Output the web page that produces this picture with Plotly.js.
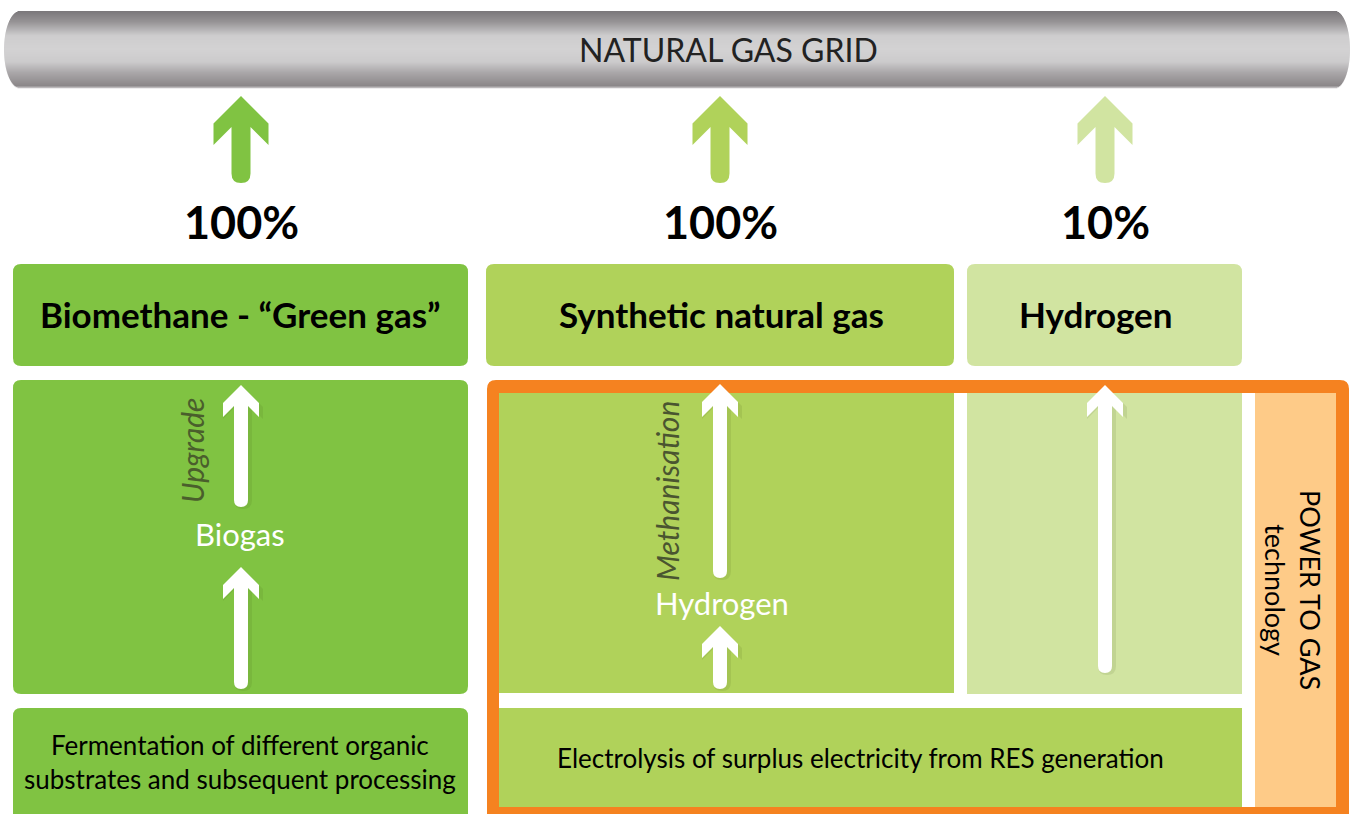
<!DOCTYPE html>
<html>
<head>
<meta charset="utf-8">
<script src="https://cdn.plot.ly/plotly-3.0.1.min.js"></script>
<style>html,body{margin:0;padding:0;background:#fff;}#chart{width:1351px;height:814px;}</style>
</head>
<body>
<div id="chart"></div>
<script>
// ---- data ----
const gridLabel = 'NATURAL GAS GRID';
const routes = ['Biomethane - \u201CGreen gas\u201D', 'Synthetic natural gas', 'Hydrogen'];
const gridShare = [100, 100, 10];
const intermediates = ['Biogas', 'Hydrogen', ''];
const processes = ['Upgrade', 'Methanisation', ''];
const sources = ['Fermentation of different organic<br>substrates and subsequent processing',
                 'Electrolysis of surplus electricity from RES generation'];
const technologyLabel = 'POWER TO GAS<br>technology';

// ---- styling / geometry ----
const FONT = 'Lato, "Open Sans", sans-serif';
const routeColors = ['#80c342', '#b0d25a', '#d1e4a1'];
const ORANGE = '#f58220', PEACH = '#fecb88';
const routeCx = [241, 720, 1105];
const titleCx = [240, 721, 1096];
const headerBox = [[13, 468], [486, 954], [967, 1242]];

function rr(x0, y0, x1, y1, r) {
  return `M ${x0+r},${y0} L ${x1-r},${y0} Q ${x1},${y0} ${x1},${y0+r} L ${x1},${y1-r} Q ${x1},${y1} ${x1-r},${y1} ` +
         `L ${x0+r},${y1} Q ${x0},${y1} ${x0},${y1-r} L ${x0},${y0+r} Q ${x0},${y0} ${x0+r},${y0} Z`;
}
function arrow(cx, tip, hh, hb, sh, bottom) {
  const inner = hb - (hh - sh);
  return `M ${cx},${tip} L ${cx+hh},${tip+hh} L ${cx+hh},${hb} L ${cx+sh},${inner} L ${cx+sh},${bottom-sh} ` +
         `Q ${cx+sh},${bottom} ${cx},${bottom} Q ${cx-sh},${bottom} ${cx-sh},${bottom-sh} ` +
         `L ${cx-sh},${inner} L ${cx-hh},${hb} L ${cx-hh},${tip+hh} Z`;
}
const shapes = [];
function addPath(path, fill, layer) {
  shapes.push({type: 'path', xref: 'x', yref: 'y', path: path, fillcolor: fill, line: {width: 0}, layer: layer || 'above'});
}
function addRect(x0, y0, x1, y1, fill) {
  shapes.push({type: 'rect', xref: 'x', yref: 'y', x0, y0, x1, y1, fillcolor: fill, line: {width: 0}});
}

// pipe gradient stripes
const pipeTop = 11, pipeBot = 88;
const gradStops = [[0, [122,119,122]], [0.14, [150,147,149]], [0.32, [206,205,206]], [0.5, [211,210,211]],
                   [0.66, [204,203,204]], [0.8, [170,167,169]], [0.97, [139,135,137]], [1, [200,198,199]]];
function gradAt(t) {
  for (let i = 1; i < gradStops.length; i++) {
    if (t <= gradStops[i][0]) {
      const a = gradStops[i-1], b = gradStops[i];
      const f = (t - a[0]) / (b[0] - a[0]);
      const c = a[1].map((v, k) => Math.round(v + (b[1][k] - v) * f));
      return `rgb(${c[0]},${c[1]},${c[2]})`;
    }
  }
  return 'rgb(139,135,137)';
}
const yc = (pipeTop + pipeBot) / 2, ry = (pipeBot - pipeTop) / 2;
for (let y = pipeTop; y < pipeBot; y += 1) {
  const ym = y + 0.5;
  const d = Math.min(1, Math.abs(ym - yc) / ry);
  const s = Math.sqrt(1 - d * d);
  const xl = 20 - 16 * s, xr = 1335 + 15 * s;
  addRect(xl, y, xr, y + 1.2, gradAt((ym - pipeTop) / (pipeBot - pipeTop)));
}

// green arrows to grid
routeCx.forEach((cx, i) => addPath(arrow(cx, 96, 27.5, 145, 9.5, 183), routeColors[i]));

// header boxes
headerBox.forEach((b, i) => addPath(rr(b[0], 264, b[1], 366, 8), routeColors[i]));

// biomethane column
addPath(rr(13, 380, 468, 694, 8), routeColors[0]);
addPath(rr(13, 708, 468, 830, 8), routeColors[0]);

// power-to-gas frame
addPath(rr(487, 380, 1349, 830, 9), ORANGE);
addRect(499, 393, 1336, 807, '#ffffff');
addRect(499, 393, 954, 693, routeColors[1]);
addRect(967, 393, 1242, 694, routeColors[2]);
addRect(499, 708, 1242, 807, routeColors[1]);
addRect(1255, 393, 1336, 807, PEACH);

// white process arrows (with faint shadow)
const whiteArrows = [
  [241, 385, 417, 507], [241, 567, 599, 689],
  [720, 384, 417, 578], [720, 626, 658, 689],
  [1105, 385, 417, 673]
];
whiteArrows.forEach(a => addPath(arrow(a[0] + 2, a[1] + 2, 20, a[2] + 2, 9, a[3] + 2), 'rgba(60,80,20,0.10)'));
whiteArrows.forEach(a => addPath(arrow(a[0], a[1], 18, a[2], 7, a[3]), '#ffffff'));

// ---- text ----
const ann = [];
function txt(x, y, text, size, color, extra) {
  ann.push(Object.assign({x, y, xref: 'x', yref: 'y', text, showarrow: false, xanchor: 'center', yanchor: 'middle',
    font: {family: FONT, size, color}}, extra || {}));
}
txt(728, 49, gridLabel, 32, '#222222');
gridShare.forEach((v, i) => txt(routeCx[i], 222, '<b>' + v + '%</b>', 45, '#000000'));
routes.forEach((r, i) => txt(titleCx[i], 314, '<b>' + r + '</b>', 35, '#000000'));
txt(240, 534, intermediates[0], 31, '#ffffff');
txt(722, 603, intermediates[1], 31, '#ffffff');
txt(192, 451, '<i>' + processes[0] + '</i>', 30, '#4a5e2c', {textangle: -90});
txt(667, 491, '<i>' + processes[1] + '</i>', 30, '#4a5530', {textangle: -90});
txt(240, 762, sources[0], 26, '#000000', {});
txt(860, 758, sources[1], 26, '#000000');
txt(1293, 590, technologyLabel, 27, '#000000', {textangle: 90});

const layout = {
  width: 1351, height: 814,
  margin: {l: 0, r: 0, t: 0, b: 0},
  paper_bgcolor: '#ffffff', plot_bgcolor: '#ffffff',
  xaxis: {range: [0, 1351], visible: false, fixedrange: true},
  yaxis: {range: [814, 0], visible: false, fixedrange: true},
  showlegend: false,
  shapes: shapes,
  annotations: ann
};
Plotly.newPlot('chart', [], layout, {staticPlot: true, displayModeBar: false});
</script>
</body>
</html>
